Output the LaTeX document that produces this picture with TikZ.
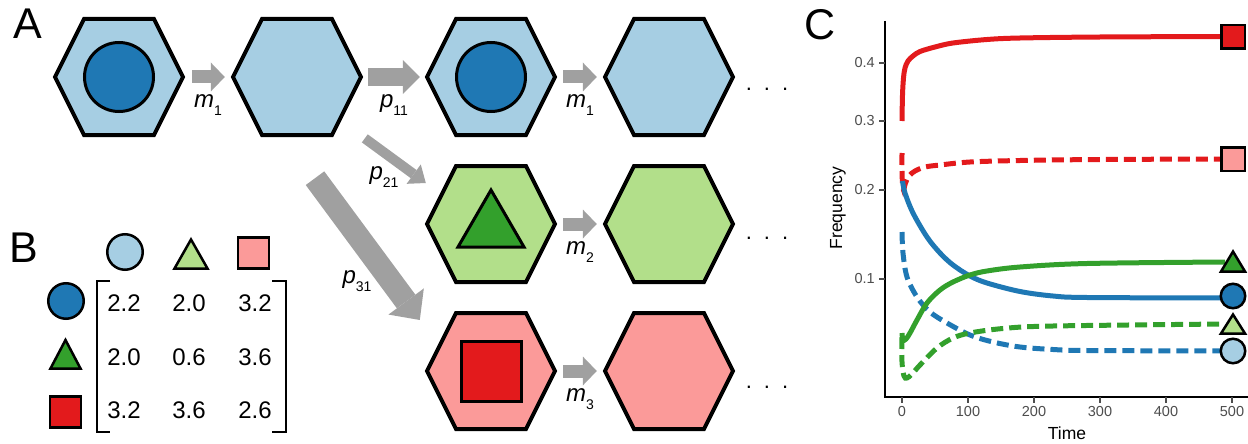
\documentclass[tikz,border=0pt]{standalone}
\usepackage{fontspec}
\setmainfont{Liberation Sans}
\usetikzlibrary{arrows.meta,calc}
\definecolor{dblue}{HTML}{1F78B4}
\definecolor{lblue}{HTML}{A6CEE3}
\definecolor{dgreen}{HTML}{33A02C}
\definecolor{lgreen}{HTML}{B2DF8A}
\definecolor{dred}{HTML}{E31A1C}
\definecolor{lred}{HTML}{FB9A99}
\definecolor{agray}{HTML}{A0A0A0}
\definecolor{tickgray}{HTML}{4D4D4D}
\newcommand\hexa[3]{%
  \node[hexbox] (#1) at (#2) {};
  \draw[hexline, fill=#3, shift={(#1.center)}] (-64,0) -- (-35,-58) -- (35,-58) -- (64,0) -- (35,58) -- (-35,58) -- cycle;}
\newcommand\lbl[2]{\textit{#1}\raisebox{-0.32em}{\fontsize{14}{14}\selectfont #2}}
\tikzset{
  hexbox/.style={rectangle, minimum width=132pt, minimum height=120pt, inner sep=0pt},
  hexline/.style={line width=4pt, line join=miter},
  inshape/.style={draw=black, line width=3pt, line join=miter},
  mk/.style={draw=black, line width=2.5pt, line join=miter, inner sep=0pt},
  harr/.style={draw=agray, line width=13pt, -{Triangle[width=29pt,length=14pt,line width=0pt]}},
  parr/.style={draw=agray, line width=18pt, -{Triangle[width=34pt,length=17pt,line width=0pt]}},
  darr/.style={draw=agray, line width=10pt, -{Triangle[width=24pt,length=15pt,line width=0pt]}},
  barr/.style={draw=agray, line width=23pt, -{Triangle[width=44pt,length=23pt,line width=0pt]}},
  arrlbl/.style={font=\fontsize{24}{24}\selectfont, inner sep=0pt},
  num/.style={font=\fontsize{24}{24}\selectfont, inner sep=0pt},
  panel/.style={font=\fontsize{43}{43}\selectfont, inner sep=0pt, anchor=base},
  tick/.style={font=\fontsize{14.5}{14.5}\selectfont, text=tickgray, inner sep=0pt},
  curve/.style={line width=5pt, smooth, tension=0.55},
  dcurve/.style={curve, dash pattern=on 12pt off 6pt},
  dots/.style={font=\fontsize{22}{22}\selectfont, inner sep=0pt}
}
\begin{document}
\begin{tikzpicture}[x=1pt,y=-1pt]
\useasboundingbox (0,0) rectangle (1248,444);
% ---------- Panel A ----------
\node[panel] (lA) at (27.5,39) {A};
\hexa{h11}{119,77}{lblue}
\hexa{h12}{297,77}{lblue}
\hexa{h13}{491,77}{lblue}
\hexa{h14}{669,77}{lblue}
\hexa{h23}{491,224}{lgreen}
\hexa{h24}{669,224}{lgreen}
\hexa{h33}{491,371}{lred}
\hexa{h34}{669,371}{lred}
% inner shapes
\node[circle, inshape, fill=dblue, minimum size=69pt, inner sep=0pt] (c11) at (h11.center) {};
\node[circle, inshape, fill=dblue, minimum size=69pt, inner sep=0pt] (c13) at (h13.center) {};
\draw[inshape, fill=dgreen, shift={(h23.center)}] (0,-34) -- (33,23) -- (-33,23) -- cycle;
\node[rectangle, inshape, fill=dred, minimum size=60pt, inner sep=0pt] (s33) at (h33.center) {};
% arrows
\draw[harr, shorten <=7pt, shorten >=6pt] (h11.east) -- (h12.west)
  node[arrlbl, midway, yshift=-28pt] (lm1a) {\lbl{m}{1}};
\draw[parr, shorten <=5pt, shorten >=5pt] (h12.east) -- (h13.west)
  node[arrlbl, midway, yshift=-28pt] (lp11) {\lbl{p}{11}};
\draw[harr, shorten <=6pt, shorten >=6pt] (h13.east) -- (h14.west)
  node[arrlbl, midway, yshift=-28pt] (lm1b) {\lbl{m}{1}};
\draw[harr, shorten <=6pt, shorten >=6pt] (h23.east) -- (h24.west)
  node[arrlbl, midway, yshift=-28pt] (lm2) {\lbl{m}{2}};
\draw[harr, shorten <=6pt, shorten >=6pt] (h33.east) -- (h34.west)
  node[arrlbl, midway, yshift=-28pt] (lm3) {\lbl{m}{3}};
\draw[darr, shorten <=2pt] (h12.south east) -- ([shift={(1,-41)}]h23.west);
\draw[barr] ([shift={(18,41)}]h12.south) -- ([shift={(-5,-51)}]h33.west);
\node[arrlbl] (lp21) at (384,177) {\lbl{p}{21}};
\node[arrlbl] (lp31) at (357,281) {\lbl{p}{31}};
% dots
\node[dots, anchor=base] (d1) at (767,90) {.\hspace{12pt}.\hspace{12pt}.};
\node[dots, anchor=base] (d2) at (767,239) {.\hspace{12pt}.\hspace{12pt}.};
\node[dots, anchor=base] (d3) at (767,388) {.\hspace{12pt}.\hspace{12pt}.};
% ---------- Panel B ----------
\node[panel] (lB) at (23.5,262) {B};
\node[circle, mk, fill=lblue, minimum size=35.5pt] (bc1) at (125,252) {};
\draw[mk, fill=lgreen] (174.5,268.5) -- (207.5,268.5) -- (191,239.5) -- cycle;
\node[rectangle, mk, fill=lred, minimum size=31pt] (bs1) at (253.5,253) {};
\node[circle, mk, fill=dblue, minimum size=35.5pt] (bc2) at (66,301) {};
\draw[mk, fill=dgreen] (50.5,368.5) -- (80.5,368.5) -- (65.5,340) -- cycle;
\node[rectangle, mk, fill=dred, minimum size=31pt] (bs2) at (65.5,412) {};
\draw[line width=2.2pt] (110,281) -- (97,281) -- (97,432) -- (110,432);
\draw[line width=2.2pt] (272,281) -- (286,281) -- (286,432) -- (272,432);
\node[num] (m11) at (124,303) {2.2};
\node[num] (m12) at (189,303) {2.0};
\node[num] (m13) at (255,303) {3.2};
\node[num] (m21) at (124,357) {2.0};
\node[num] (m22) at (189,357) {0.6};
\node[num] (m23) at (255,357) {3.6};
\node[num] (m31) at (124,410) {3.2};
\node[num] (m32) at (189,410) {3.6};
\node[num] (m33) at (255,410) {2.6};
% ---------- Panel C ----------
\node[panel] (lC) at (820,40) {C};
\draw[line width=1.4pt] (885,21) -- (885,397) -- (1248,397);
\foreach \yy/\tt in {63/0.4,121/0.3,190/0.2,279/0.1}{
  \draw[line width=1.2pt, tickgray] (879,\yy) -- (885,\yy);
  \node[tick, anchor=east] at (875,\yy) {\tt};
}
\foreach \xx/\tt in {902/0,968/100,1034/200,1100/300,1166/400,1232/500}{
  \draw[line width=1.2pt, tickgray] (\xx,397) -- (\xx,403);
  \node[tick, anchor=north] at (\xx,406) {\tt};
}
\node[font=\fontsize{17.5}{17.5}\selectfont, inner sep=0pt] (xl) at (1067,433) {Time};
\node[font=\fontsize{17.5}{17.5}\selectfont, inner sep=0pt, rotate=90] (yl) at (838,208) {Frequency};
% curves
\draw[dcurve, dred] plot coordinates {(902,153) (902,170) (902.5,184) (903.5,190) (905.5,183) (909,176) (915,171) (925,167) (940,165) (970,162) (1020,160.5) (1100,159.5) (1225,159)};
\draw[dcurve, dblue] plot coordinates {(902,232) (903,253) (907,277) (917,297) (930,312) (947,323) (970,335) (993,342) (1020,347) (1053,349.5) (1087,350.5) (1225,351)};
\draw[dcurve, dgreen] plot coordinates {(902,337) (902,362) (904,376) (907,378) (912,374) (920,365) (937,348) (953,338) (970,333) (1003,328.5) (1053,326) (1225,324)};
\draw[curve, dred] plot coordinates {(902,121) (902.5,95) (903.5,78) (905,68) (908,61) (913,56) (920,51.5) (935,47) (953,43) (987,39.5) (1020,38) (1100,37) (1225,36.5)};
\draw[curve, dblue] plot coordinates {(902.5,181) (905,193) (913,213) (927,237) (940,253) (953,265) (970,276) (987,283) (1020,291.5) (1053,296) (1087,297.5) (1225,298)};
\draw[curve, dgreen] plot coordinates {(902,333) (903,340) (906,339) (910,333) (917,320) (927,303) (940,290) (953,282) (970,275) (987,271) (1020,267) (1087,263.5) (1225,262)};
% end markers
\node[rectangle, mk, fill=dred, minimum size=23.5pt] (e1) at (1233,37) {};
\node[rectangle, mk, fill=lred, minimum size=23.5pt] (e2) at (1233,159) {};
\draw[mk, fill=dgreen] (1221,271.5) -- (1245,271.5) -- (1233,251.5) -- cycle;
\node[circle, mk, fill=dblue, minimum size=24.5pt] (e4) at (1233,296) {};
\draw[mk, fill=lgreen] (1221,333.5) -- (1245,333.5) -- (1233,314.5) -- cycle;
\node[circle, mk, fill=lblue, minimum size=24.5pt] (e6) at (1233,351) {};
\end{tikzpicture}
\end{document}
